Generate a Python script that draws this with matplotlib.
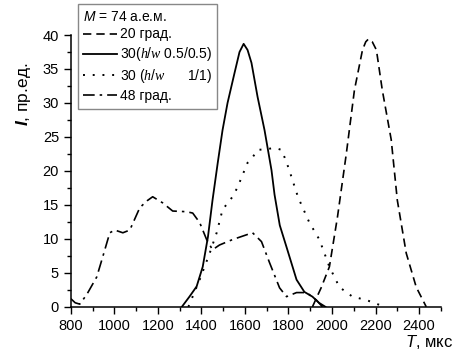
import matplotlib
matplotlib.use("Agg")
import matplotlib.pyplot as plt
from matplotlib.ticker import MultipleLocator

plt.rcParams['font.family'] = ['Liberation Sans', 'DejaVu Sans']
plt.rcParams['font.size'] = 10.5
plt.rcParams['mathtext.fontset'] = 'custom'
plt.rcParams['mathtext.rm'] = 'Liberation Sans'
plt.rcParams['mathtext.it'] = 'Liberation Serif:italic'
plt.rcParams['mathtext.sf'] = 'Liberation Sans:italic'
plt.rcParams['mathtext.bf'] = 'Liberation Sans:bold:italic'

# 20 deg
t20 = [1910, 1950, 1988, 2025, 2066, 2103, 2140, 2155, 2167, 2185, 2204, 2231, 2272, 2300, 2341, 2387, 2433]
i20 = [0, 2.8, 5.9, 13.2, 22.6, 31.9, 37.8, 39.0, 39.4, 39.0, 37.8, 31.9, 24.6, 15.7, 7.9, 2.9, 0]

# 30 deg, h/w 0.5/0.5
t30a = [1310, 1345, 1378, 1406, 1430, 1451, 1475, 1497, 1520, 1552, 1575, 1594, 1612,
        1630, 1658, 1690, 1722, 1736, 1760, 1791, 1837, 1873, 1910, 1940, 1970]
i30a = [0, 1.5, 3.0, 5.9, 10.3, 15.7, 21.2, 26.0, 30.0, 34.4, 37.5, 38.7, 37.8,
        35.9, 30.9, 26.0, 20.1, 16.5, 12.0, 8.8, 4.0, 2.2, 1.5, 0.6, 0]

# 30 deg, h/w 1/1
t30b = [1340, 1392, 1438, 1470, 1497, 1543, 1566, 1612, 1635, 1658, 1700, 1736, 1768,
        1791, 1814, 1837, 1850, 1896, 1942, 1988, 2034, 2094, 2158, 2217, 2245]
i30b = [0, 4.0, 7.9, 10.9, 14.3, 16.2, 17.6, 21.2, 22.0, 23.1, 23.2, 23.4, 23.1,
        21.3, 19.1, 16.8, 15.7, 12.4, 9.9, 5.9, 2.9, 1.5, 1.0, 0.3, 0]

# 48 deg
t48 = [800, 820, 841, 873, 919, 947, 979, 1002, 1039, 1071, 1117, 1150, 1176, 1222,
       1268, 1332, 1360, 1392, 1424, 1451, 1483, 1543, 1607, 1635, 1676, 1713, 1759,
       1791, 1837, 1883, 1928, 1956]
i48 = [1.2, 0.6, 0.4, 1.8, 4.4, 7.4, 10.9, 11.3, 10.9, 11.3, 14.6, 15.6, 16.2, 15.3,
       14.1, 14.0, 13.8, 12.4, 9.9, 8.4, 9.1, 9.9, 10.6, 10.9, 9.6, 6.5, 2.8,
       1.5, 2.1, 2.1, 1.0, 0]

fig = plt.figure(figsize=(4.66, 3.61), dpi=100)
ax = fig.add_axes([0.152, 0.150, 0.794, 0.753])

ax.plot(t20, i20, color='black', lw=1.2, dashes=(5, 3), label='20 град.')
ax.plot(t30a, i30a, color='black', lw=1.3, ls='-', label='30($h/w$ 0.5/0.5)')
ax.plot(t30b, i30b, color='black', lw=1.4, dashes=(1, 4), label='30 ($h/w$      1/1)')
ax.plot(t48, i48, color='black', lw=1.2, dashes=(7, 3, 1.5, 3), label='48 град.')

ax.set_xlim(800, 2500)
ax.set_ylim(0, 40)
ax.xaxis.set_major_locator(MultipleLocator(200))
ax.xaxis.set_minor_locator(MultipleLocator(100))
ax.yaxis.set_major_locator(MultipleLocator(5))
ax.yaxis.set_minor_locator(MultipleLocator(2.5))
ax.tick_params(which='major', direction='out', length=5, width=1, labelsize=10.5)
ax.tick_params(which='minor', direction='out', length=3, width=1)
for s in ['top', 'right']:
    ax.spines[s].set_visible(False)
for s in ['left', 'bottom']:
    ax.spines[s].set_linewidth(1.1)

fig.text(0.05, 0.74, r'$\mathbf{I}$, пр.ед.', rotation=90, ha='center', va='center', fontsize=12.5)
fig.text(0.972, 0.052, r'$\mathsf{T}$, мкс', ha='right', va='center', fontsize=12)

leg = ax.legend(loc='upper left', bbox_to_anchor=(0.019, 1.114), borderaxespad=0,
                title=r'$\mathsf{M}$ = 74 а.е.м.', alignment='left', fancybox=False,
                edgecolor='#888888', framealpha=1, handlelength=2.4, handletextpad=0.2,
                labelspacing=0.28, borderpad=0.4, fontsize=10, title_fontsize=10)
leg.get_frame().set_linewidth(1.0)

fig.savefig('out.png', dpi=100)
